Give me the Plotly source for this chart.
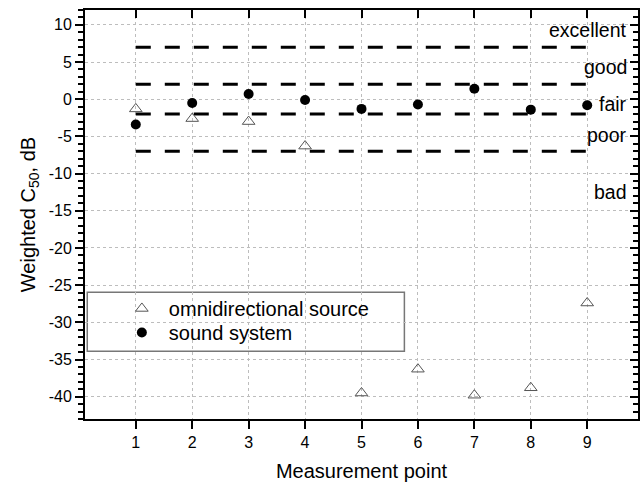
import plotly.graph_objects as go

points = [1, 2, 3, 4, 5, 6, 7, 8, 9]
omni = [-1.3, -2.6, -3.0, -6.3, -39.5, -36.3, -39.8, -38.8, -27.4]
sound = [-3.4, -0.5, 0.7, -0.1, -1.3, -0.7, 1.4, -1.4, -0.8]
thresholds = [7, 2, -2, -7]
rating_labels = ["excellent", "good", "fair", "poor", "bad"]
rating_y = [9.3, 4.3, -0.6, -4.8, -12.5]
y_tickvals = [10, 5, 0, -5, -10, -15, -20, -25, -30, -35, -40]
y_ticktext = ["10", "5", "0", "-5", "-10", "-15", "-20", "-25", "-30", "-35", "-40"]

FONT = "Arial, Liberation Sans, sans-serif"

fig = go.Figure()

for t in thresholds:
    fig.add_trace(go.Scatter(
        x=[points[0], points[-1]], y=[t, t], mode="lines",
        line=dict(color="black", width=3, dash="15px,14px"),
        showlegend=False, hoverinfo="skip"))

fig.add_trace(go.Scatter(
    x=points, y=omni, mode="markers", name="omnidirectional source",
    marker=dict(symbol="triangle-up-open", size=11, color="#555555",
                line=dict(width=1, color="#555555")),
    legend="legend"))
fig.add_trace(go.Scatter(
    x=points, y=sound, mode="markers", name="sound system",
    marker=dict(symbol="circle", size=10, color="black"),
    legend="legend2"))

# invisible trace for mirrored (top/right) axes with inward ticks
fig.add_trace(go.Scatter(x=[points[0]], y=[sound[0]], xaxis="x2", yaxis="y2",
                         mode="markers", marker=dict(opacity=0),
                         showlegend=False, hoverinfo="skip"))

for lab, yv in zip(rating_labels, rating_y):
    fig.add_annotation(x=9.74, y=yv, text=lab, showarrow=False,
                       xanchor="right", yanchor="middle",
                       font=dict(family=FONT, size=19.5, color="black"))

# legend box
fig.add_shape(type="rect", xref="x", yref="y", x0=0.14, x1=5.76, y0=-33.9, y1=-25.95,
              line=dict(color="#777777", width=1.5), fillcolor="white", layer="below")

axis_common = dict(showline=True, linecolor="black", linewidth=2,
                   tickfont=dict(family=FONT, size=16, color="black"),
                   ticklen=8, tickwidth=2, tickcolor="black")

legend_common = dict(xanchor="left", yanchor="top", bgcolor="rgba(0,0,0,0)", borderwidth=0,
                     font=dict(family=FONT, size=20, color="black"), itemwidth=44)

fig.update_layout(
    width=643, height=484,
    margin=dict(l=85, r=5, t=10, b=65),
    paper_bgcolor="white", plot_bgcolor="white",
    font=dict(family=FONT, size=16, color="black"),
    showlegend=True,
    legend=dict(x=0.054, y=0.318, **legend_common),
    legend2=dict(x=0.054, y=0.2593, **legend_common),
    xaxis=dict(range=[0.1, 9.9], tickvals=points, ticks="outside",
               showgrid=True, gridcolor="#bdbdbd", griddash="3px,3px", gridwidth=1,
               zeroline=False,
               title=dict(text="Measurement point", font=dict(family=FONT, size=20), standoff=14),
               **axis_common),
    yaxis=dict(range=[-43, 12], tickvals=y_tickvals, ticktext=y_ticktext, ticks="outside",
               showgrid=True, gridcolor="#bdbdbd", griddash="3px,3px", gridwidth=1,
               zeroline=False,
               minor=dict(dtick=1, tick0=0, ticks="outside", ticklen=5, tickwidth=1.5, tickcolor="black", showgrid=False),
               title=dict(text="Weighted C<sub>50</sub>, dB", font=dict(family=FONT, size=20), standoff=8),
               **axis_common),
    xaxis2=dict(overlaying="x", matches="x", side="top", tickvals=points, ticks="inside",
                showticklabels=False, showgrid=False, zeroline=False,
                showline=True, linecolor="black", linewidth=2,
                ticklen=8, tickwidth=2, tickcolor="black"),
    yaxis2=dict(overlaying="y", matches="y", side="right", tickvals=y_tickvals, ticks="inside",
                showticklabels=False, showgrid=False, zeroline=False,
                showline=True, linecolor="black", linewidth=2,
                ticklen=8, tickwidth=2, tickcolor="black",
                minor=dict(dtick=1, tick0=0, ticks="inside", ticklen=5, tickwidth=1.5, tickcolor="black", showgrid=False)),
)

fig.write_html("out.html", post_script="document.body.style.margin='0';",
               config={"displayModeBar": False})
